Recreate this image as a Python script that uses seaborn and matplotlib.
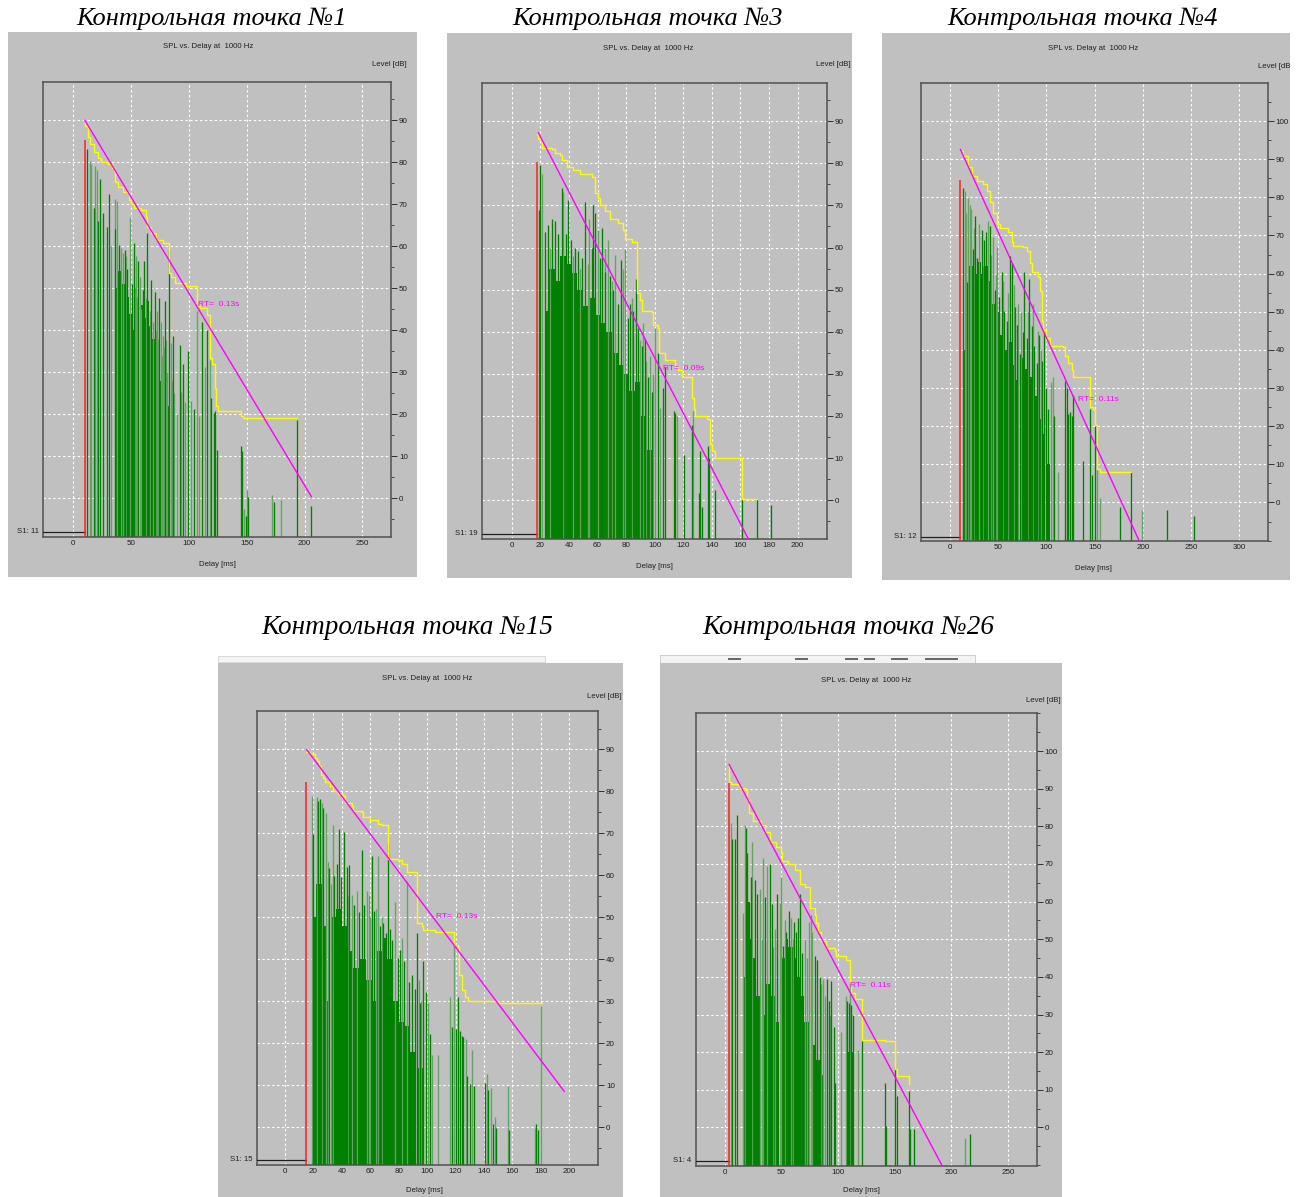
import numpy as np
import matplotlib
matplotlib.use("Agg")
import matplotlib.pyplot as plt
import matplotlib.transforms as mtransforms
from matplotlib.patches import Rectangle
from matplotlib.ticker import MultipleLocator
import seaborn as sns

sns.set_style("white")
plt.rcParams['font.family'] = ['Liberation Sans', 'DejaVu Sans']

# ---------------- data ----------------
titles = ["Контрольная точка №1", "Контрольная точка №3", "Контрольная точка №4",
          "Контрольная точка №15", "Контрольная точка №26"]
s1_labels = ["S1: 11", "S1: 19", "S1: 12", "S1: 15", "S1: 4"]
rt_texts = ["RT=  0.13s", "RT=  0.09s", "RT=  0.11s", "RT=  0.13s", "RT=  0.11s"]
chart_title = "SPL vs. Delay at  1000 Hz"

# panel 1
p1_dark_x = [12.4, 18.1, 21.6, 23.6, 26, 29.4, 30.8, 36, 39.5, 44.6, 47, 51, 52.7, 56, 60, 61.3, 64.2, 67.7, 70.6, 74,
             79.2, 82.7, 86.4, 92.2, 95, 99.4, 104.3, 111.5, 116, 119.5, 121.5, 123, 124.4, 145.5, 146.3, 149, 151.2,
             173.4, 193.5, 206]
p1_dark_h = [83.2, 69, 66, 76, 68, 64.5, 72.5, 64, 60.3, 59, 54.5, 51, 60.7, 56.6, 49.5, 56.6, 63.2, 52, 49, 47.8,
             47, 59, 38.7, 36.4, 32, 35, 21.2, 42, 40, 24, 20.4, 20.8, 11.6, 12.5, 11.2, -4.2, 0.4,
             -0.8, 18.7, -1.7]
p1_light_x = [15, 15.8, 19.3, 20.7, 33, 36.6, 38.3, 41, 43, 46, 49, 54.7, 57.6, 62.8, 66.2, 69, 72.6, 75.7, 77.8, 80.6,
              84.4, 93.6, 96.5, 101.7, 107, 108.6, 113.8, 118, 147.8, 150.3, 172.2, 179.4, 53.5, 55.5, 58.5, 71.5,
              73.5, 76.5, 78.5, 81.5, 85.5, 87.5, 89.5]
p1_light_h = [80.3, 79.5, 79, 78.2, 60, 71.3, 70.7, 59.5, 58.5, 57.8, 67, 57.8, 52.8, 47.8, 44.5, 42, 44.5, 42, 38.7, 37.8,
              37, 25.4, 22.9, 23.3, 44.5, 19.6, 31.2, 32.9, -2.5, 2.1, 0.8, -0.4, 50, 48, 45, 40,
              38, 34, 36, 30, 28, 25, 20]
p1_floor_x0 = [37, 39, 42, 45, 48, 50.5, 57.7, 60, 63, 66, 68.5, 73, 77, 81, 85]
p1_floor_x1 = [39, 42, 45, 48, 50.5, 52.5, 60, 63, 66, 68.5, 71.5, 76, 80, 84, 88]
p1_floor_h = [50, 54, 51, 48, 44, 40, 46, 43, 47, 41, 38, 28, 24, 22, 18]
p1_yel_x = [10.1, 10.6, 12.9, 15, 18.1, 21.6, 24.5, 30, 33.7, 35.4, 36.6, 39, 43, 48, 50.4, 53, 59, 63.4, 64.2, 67.7,
            72, 77.8, 82.7, 85, 88, 98, 107, 109.4, 115.8, 118, 120, 122.4, 123.8, 125.3, 145.5, 147, 193.5]
p1_yel_y = [90, 88.6, 86, 84.4, 82.4, 81, 80, 79.5, 78.6, 77.8, 75.3, 74, 72.8, 71, 70, 69, 68.6, 67, 64.5, 63.2,
            61.5, 60.7, 53.7, 52.8, 51.3, 50.5, 45.8, 45.3, 43.7, 33.3, 32, 26.2, 22, 20.8, 19.6, 19.1, 19.1]
p1_rt_x = [10.1, 206]
p1_rt_y = [90, 0.4]
p1_red_x, p1_red_top = 10.1, 85.3

# panel 2
p2_dark_x = [19.1, 19.8, 23.3, 25.6, 28, 30.3, 32.6, 35, 37.8, 39.6, 41.5, 44.3, 46.6, 49, 51.3, 56, 57, 58.3, 61.8,
             63.4, 65.3, 68.8, 70.6, 74.6, 76.2, 81.1, 82.8, 85.1, 86.7, 88.6, 90.9, 93.2, 95.1, 98.4, 102.6, 106,
             107.2, 113.3, 114.2, 120.7, 126.3, 131, 131.7, 132.9, 137.5, 138.2, 142.2, 160.8, 171.8, 181]
p2_dark_h = [69, 79.6, 63.7, 65.4, 66.7, 66.2, 63.3, 74.2, 63.3, 71.2, 61.7, 60, 59.2, 57.5, 70.8, 60, 70, 68.3, 57.5,
             64.6, 54.2, 53.3, 50, 46.7, 57, 43.3, 46.7, 45, 52.5, 40.8, 36.7, 38.3, 29.2, 25.8, 35, 26.7,
             31.7, 21.2, 20.8, 10.8, 17.9, 1.7, 11.7, -1.7, 12.9, 10, 2.5, 0.4, 0.4, -1.2]
p2_light_x = [21, 36.1, 54, 60.1, 67.1, 72.3, 78, 79.3, 96.7, 100.2, 115.4, 127, 27, 43, 48, 53, 65, 70, 84, 92,
              89.5, 94, 99, 104]
p2_light_h = [77.5, 73.3, 66.7, 64.2, 61.7, 58.3, 55, 59.6, 34.2, 40.8, 20, 21.2, 60, 58, 55, 56, 60, 52, 48, 42,
              38, 33, 30, 22]
p2_floor_x0 = [23, 26, 30, 34, 38, 42, 46, 50, 54, 58, 62, 66, 70, 74, 78, 82, 86, 90, 94]
p2_floor_x1 = [26, 30, 34, 38, 42, 46, 50, 54, 58, 62, 66, 70, 74, 78, 82, 86, 90, 94, 98]
p2_floor_h = [45, 55, 52, 58, 56, 54, 50, 46, 48, 44, 42, 40, 35, 32, 30, 26, 28, 20, 12]
p2_yel_x = [18, 18.6, 21, 28, 30.3, 33.8, 35.4, 38.5, 43, 47.8, 56, 58.3, 60.6, 61.8, 65.3, 68.8, 74.6, 78, 79.3,
            83.9, 87.4, 89.7, 90.9, 97.9, 99, 102.6, 103, 107.2, 114.2, 116.6, 118.9, 125.9, 127.5, 128.5, 136.4,
            138.7, 139.9, 142.2, 160.8, 171.8]
p2_yel_y = [87, 85.8, 83.7, 83.3, 82.5, 82, 80.8, 79.2, 78.3, 77.5, 76.7, 72.9, 71.7, 70, 68.7, 66.7, 65.8, 64.2, 62.1,
            61.2, 49.2, 47.5, 45, 44.6, 41.7, 40.8, 35, 33.3, 31.7, 30.8, 29.2, 24.2, 21.7, 20, 19.2,
            13.3, 11.7, 10, 0.4, 0.4]
p2_rt_x = [18.6, 165.5]
p2_rt_y = [87.3, -9.2]
p2_red_x, p2_red_top = 18, 80.2

# panel 3
p3_dark_x = [13.8, 18, 23.5, 26, 28.3, 32.8, 35.3, 37.3, 41.5, 46.7, 51.2, 53.6, 56, 58.8, 62.2, 64.6, 67, 69.8, 72.6,
             75.4, 77.1, 79.5, 82.3, 84.7, 87.1, 89.9, 92.6, 95, 97.5, 99.6, 102, 107.8, 119.3, 121, 122.7, 124.4,
             126.2, 127.9, 138.3, 145.2, 146.9, 150.4, 176.3, 187.3, 224.7, 253.4]
p3_dark_h = [82.5, 57.7, 66.4, 75.2, 64.1, 71.5, 68.7, 71, 72.4, 55.8, 54, 60.4, 50.3, 47.6, 64.6, 62.7, 51.2, 46.6, 38.8,
             44.8, 60.4, 43, 58.6, 46.2, 41.1, 36.5, 43.9, 37, 44.8, 30.1, 24.6, 22.7, 31.9, 30.1, 23.2, 23.6,
             22.7, 28.2, 10.8, 24.6, 7.1, 20, -1.2, 8, -2.1, -3.5]
p3_light_x = [15.6, 19, 20.7, 30.4, 39, 44.2, 49, 104.4, 106.5, 112.3, 152.1, 155.5, 199.4, 17, 22, 25, 34, 43, 48,
              55, 60, 66, 71, 74, 81, 86, 91, 94]
p3_light_h = [81.6, 79.8, 78, 72.9, 73.8, 69.6, 66.9, 31.5, 32.8, 8, 18.6, 1.1, -2.1, 76, 77, 72, 62, 65, 60,
              58, 55, 57, 52, 50, 50, 52, 45, 40]
p3_floor_x0 = [14, 17, 20, 24, 28, 32, 36, 40, 44, 48, 52, 56, 60, 64, 68, 74, 78, 82, 86, 90, 94, 100]
p3_floor_x1 = [17, 20, 24, 28, 32, 36, 40, 44, 48, 52, 56, 60, 64, 68, 72, 78, 82, 86, 90, 94, 98, 104]
p3_floor_h = [40, 55, 62, 60, 63, 60, 62, 58, 52, 50, 44, 40, 42, 36, 32, 38, 35, 33, 28, 22, 18, 10]
p3_yel_x = [10.7, 13.8, 19, 22.5, 27.7, 34.6, 38, 41.5, 45, 48.4, 51.8, 60.5, 64, 65.7, 76, 79.5, 83, 84.7, 91.6,
            93.3, 95, 96.8, 99.6, 103.7, 117.5, 119.3, 122.7, 126.2, 127.9, 145.2, 148, 150.4, 152.8, 155.5, 187.3]
p3_yel_y = [92.2, 90.8, 88, 85.7, 84.4, 83.4, 81.6, 78.8, 76, 72.9, 72, 71, 68.3, 67.3, 66.9, 66, 62.7, 60.4, 59,
            55.4, 47.6, 45.3, 43, 41.1, 40.7, 38.4, 36.5, 34.7, 32.8, 25, 24.6, 20.4, 8.9, 8, 8]
p3_rt_x = [10.7, 196.3]
p3_rt_y = [92.6, -10.1]
p3_red_x, p3_red_top = 10.7, 84.5

# panel 4
p4_dark_x = [19.5, 23, 24.6, 27, 31, 34.7, 36.3, 38, 39.4, 41.7, 43.4, 45, 48.8, 52, 53.9, 55.6, 61, 62.8, 66.8, 69.2,
             70.8, 72.2, 73.9, 75.5, 79.7, 80.9, 84, 87.2, 89.1, 91.4, 92.6, 95, 97.3, 98.9, 102, 117.7, 120, 121.9,
             123.1, 124.3, 125.4, 128.3, 130.1, 133.2, 140.7, 143, 146.5, 148.4, 157.6, 176.6, 177.7]
p4_dark_h = [69.8, 77.7, 78.1, 76, 61.8, 59.9, 62.8, 71.1, 59.5, 70.3, 62, 62.4, 52.9, 51.2, 66.1, 52.9, 64.5, 51.6, 47.9,
             48.7, 46.2, 67.8, 47.1, 44.6, 40.4, 42.1, 39.6, 34.6, 36.3, 33, 46.2, 29.7, 39.6, 32.1, 22.2, 23.9, 23.4,
             30.9, 23, 21.8, 21.4, 12.3, 10.2, 9.8, 10.6, 8.9, 0.7, -0.2, -0.6, 0.7, -0.6]
p4_light_x = [18.8, 22.3, 25.8, 28.6, 30.5, 34, 46.9, 50.4, 57.4, 59.1, 65.2, 77.4, 85.6, 100.8, 103.2, 107.4, 116,
              119.1, 127, 131.8, 141.9, 144.9, 147.7, 156.6, 175.8, 179.8, 32.5, 44, 60, 64, 68, 82.5, 94, 96]
p4_light_h = [79, 78.7, 77.3, 74.8, 63.2, 71.9, 55.3, 56.2, 56.2, 55.3, 64.5, 53.7, 58.7, 29.7, 17.2, 17.2, 30.9,
              43.3, 21, 18.5, 12.7, 9.4, 2.3, 9.8, -0.2, 28.8, 58, 55, 50, 52, 50, 45, 35, 30]
p4_floor_x0 = [19.5, 22, 26, 29, 33, 36, 40, 44, 48, 53, 57, 61, 64, 68, 72, 76, 80, 84, 88, 93]
p4_floor_x1 = [22, 26, 29, 31, 36, 40, 44, 48, 52, 57, 61, 64, 68, 72, 76, 80, 84, 88, 92, 97]
p4_floor_h = [50, 58, 48, 30, 50, 52, 48, 42, 38, 40, 35, 30, 42, 45, 40, 30, 25, 24, 18, 14]
p4_yel_x = [14.8, 17.6, 21.1, 22.3, 23.9, 25.3, 27, 28.1, 31.7, 34, 37.5, 41, 42.2, 46.9, 48, 53.9, 55.1, 59.8, 65.7,
            68, 72.5, 79.3, 82, 85.6, 92.6, 96.1, 97.3, 105.5, 119.1, 121.9, 122.4, 124.3, 126.6, 129, 150, 180.5]
p4_yel_y = [89.5, 88.9, 88, 87.2, 86, 83.9, 83.1, 82.3, 81.2, 80.2, 79.4, 79, 77.3, 76.5, 75.4, 75.2, 74, 73.2, 72.3,
            71.9, 64, 63.6, 62.8, 60.7, 48.7, 47.9, 46.9, 46.6, 43.3, 42.9, 36.3, 32.6, 30.9, 30.1, 29.7, 29.5]
p4_rt_x = [15.2, 196.5]
p4_rt_y = [90, 8.5]
p4_red_x, p4_red_top = 14.8, 82.3

# panel 5
p5_dark_x = [6.5, 8.8, 11.2, 19.1, 20, 21.2, 22.9, 26.5, 28.8, 35.3, 39.7, 41.8, 46.5, 51.5, 54.4, 56.5, 61.2, 63.2,
             64.7, 66.2, 68.2, 79.4, 81.8, 83.8, 90.6, 91.8, 94.1, 96.2, 97.6, 108.2, 109.4, 111.8, 113.2, 121.2,
             141.2, 142.4, 150, 152.4, 162.4, 163.2, 166.8, 216.2]
p5_dark_h = [76.7, 76.7, 83, 79.5, 73, 59.3, 66.6, 65.7, 62, 61.1, 69.9, 59.3, 62, 48.3, 51.9, 57.4, 54.7, 51.9,
             55.6, 62, 46.4, 45.5, 44.6, 40, 39.5, 33.5, 39, 26.7, 11.9, 33.5, 33.1, 32.6, 29.9, 23,
             11.9, 0.5, 16.1, 8.3, 9.7, -0.5, -0.5, -1.8]
p5_light_x = [5.3, 16.2, 17.6, 24.1, 30.9, 34.1, 37.6, 44.7, 48.5, 50, 58.8, 70.6, 74.1, 75.9, 77.1, 86.8, 102.4,
              107.4, 110.9, 117.6, 211.8, 32.5, 43, 53, 60, 72.5, 85, 88.5, 93]
p5_light_h = [80.9, 57, 80.4, 75.8, 63.4, 71.7, 69.4, 52.8, 59.7, 66.6, 55.6, 50.1, 54.7, 56.5, 51.9, 39.5, 25.3,
              34.9, 38.1, 20.7, -2.8, 50, 48, 55, 50, 45, 38, 35, 30]
p5_floor_x0 = [17, 19, 22, 25, 28, 33, 36, 40, 44, 50, 53, 56, 60, 64, 67, 70, 76, 80, 84, 107]
p5_floor_x1 = [19, 22, 25, 28, 31, 36, 40, 44, 48, 53, 56, 60, 64, 67, 70, 74, 80, 84, 88, 113]
p5_floor_h = [40, 60, 50, 45, 35, 30, 38, 35, 28, 45, 50, 48, 45, 40, 35, 28, 22, 18, 14, 20]
p5_yel_x = [3.8, 3.8, 5.9, 11.8, 13.2, 18.2, 20, 21.2, 25, 32.4, 35.9, 39.7, 45.6, 50, 50.6, 55.9, 61.8, 66.2, 70.6,
            75, 75.6, 79.4, 80.9, 82.4, 85.3, 89.7, 97, 98.5, 107.4, 110.3, 111.8, 114.7, 121.2, 141.2, 150, 152.4,
            162.4]
p5_yel_y = [96.2, 91.9, 91.3, 91, 90.1, 89.6, 86.9, 83.6, 81.3, 80.4, 78.6, 75.8, 74.4, 73.1, 70.8, 69.9, 68.5, 64.8,
            63.9, 63, 58.4, 56.5, 54.2, 51.9, 49.6, 47.8, 46.9, 45.5, 44.6, 38.6, 35.8, 34, 23.2, 23, 15.6, 13.8,
            11.5]
p5_rt_x = [3.8, 191.8]
p5_rt_y = [96.5, -10.1]
p5_red_x, p5_red_top = 3.8, 91.5

# ---------------- layout (pixels) ----------------
W, H = 1297, 1197
GREY = "#c0c0c0"
DARK = "#008000"
LIGHT = "#62a462"

panels = [
    dict(box=(43, 81.5, 391.3, 536.7), bg=(8, 32, 417, 577), xlim=(-26, 275), ylim=(-9.1, 99.2),
         xstep=50, xtop=250, ytop=90, title_xy=(212, 19), spl_xy=(208.5, 47), level_xy=(407, 64),
         delay_xy=(217, 565), rt_pos=(108, 46.2), tsize=19,
         dark=(p1_dark_x, p1_dark_h), light=(p1_light_x, p1_light_h), floor=(p1_floor_x0, p1_floor_x1, p1_floor_h),
         yel=(p1_yel_x, p1_yel_y), rt=(p1_rt_x, p1_rt_y), red=(p1_red_x, p1_red_top), level="Level [dB]"),
    dict(box=(481.7, 83.3, 826.7, 538.8), bg=(447, 33, 852, 578), xlim=(-21, 220.3), ylim=(-9.17, 99),
         xstep=20, xtop=200, ytop=90, title_xy=(648, 19), spl_xy=(648, 48), level_xy=(851, 64),
         delay_xy=(654, 566), rt_pos=(106, 31.3), tsize=19,
         dark=(p2_dark_x, p2_dark_h), light=(p2_light_x, p2_light_h), floor=(p2_floor_x0, p2_floor_x1, p2_floor_h),
         yel=(p2_yel_x, p2_yel_y), rt=(p2_rt_x, p2_rt_y), red=(p2_red_x, p2_red_top), level="Level [dB]"),
    dict(box=(920.7, 83.3, 1267.7, 541), bg=(882, 33, 1290, 580), xlim=(-30.4, 329.5), ylim=(-10.1, 109.9),
         xstep=50, xtop=300, ytop=100, title_xy=(1083, 19), spl_xy=(1093, 49), level_xy=(1290, 66),
         delay_xy=(1093, 568), rt_pos=(133, 26.9), tsize=19,
         dark=(p3_dark_x, p3_dark_h), light=(p3_light_x, p3_light_h), floor=(p3_floor_x0, p3_floor_x1, p3_floor_h),
         yel=(p3_yel_x, p3_yel_y), rt=(p3_rt_x, p3_rt_y), red=(p3_red_x, p3_red_top), level="Level [dB"),
    dict(box=(256.7, 711.3, 598.3, 1164.9), bg=(218, 663, 623, 1197), xlim=(-19.9, 220.4), ylim=(-9.0, 99.1),
         xstep=20, xtop=200, ytop=90, title_xy=(407, 628), spl_xy=(427, 679), level_xy=(622, 697),
         delay_xy=(424, 1190), rt_pos=(106, 50.2), tsize=19.5,
         dark=(p4_dark_x, p4_dark_h), light=(p4_light_x, p4_light_h), floor=(p4_floor_x0, p4_floor_x1, p4_floor_h),
         yel=(p4_yel_x, p4_yel_y), rt=(p4_rt_x, p4_rt_y), red=(p4_red_x, p4_red_top), level="Level [dB]"),
    dict(box=(695.7, 713.4, 1037, 1165.5), bg=(660, 663, 1062, 1197), xlim=(-25.6, 275.6), ylim=(-10.1, 110),
         xstep=50, xtop=250, ytop=100, title_xy=(848, 628), spl_xy=(866, 680), level_xy=(1061, 700),
         delay_xy=(861, 1191), rt_pos=(110.3, 37.7), tsize=19.5,
         dark=(p5_dark_x, p5_dark_h), light=(p5_light_x, p5_light_h), floor=(p5_floor_x0, p5_floor_x1, p5_floor_h),
         yel=(p5_yel_x, p5_yel_y), rt=(p5_rt_x, p5_rt_y), red=(p5_red_x, p5_red_top), level="Level [dB]"),
]

fig = plt.figure(figsize=(W / 100, H / 100), dpi=100)
fig.patch.set_facecolor("white")


def ftxt(x, y, s, **kw):
    fig.text(x / W, 1 - y / H, s, **kw)


def frect(x0, y0, x1, y1, **kw):
    fig.add_artist(Rectangle((x0 / W, 1 - y1 / H), (x1 - x0) / W, (y1 - y0) / H,
                             transform=fig.transFigure, **kw))


# toolbar remnants above bottom panels
frect(218, 656, 545, 662, facecolor="#f4f4f4", edgecolor="#d4d4d4", lw=0.6, zorder=0)
frect(660, 655, 975, 663, facecolor="#f2f2f2", edgecolor="#c8c8c8", lw=0.6, zorder=0)
for a, b in [(728, 741), (795, 808), (845, 858), (864, 875), (891, 908), (925, 958)]:
    frect(a, 657.5, b, 660, facecolor="#6a6a6a", edgecolor="none", zorder=1)

for i, p in enumerate(panels):
    bx0, by0, bx1, by1 = p["bg"]
    frect(bx0, by0, bx1, by1, facecolor=GREY, edgecolor="none", zorder=0)

    x0, y0, x1, y1 = p["box"]
    bw, bh = x1 - x0, y1 - y0
    ax = fig.add_axes([x0 / W, 1 - y1 / H, bw / W, bh / H])
    ax.set_facecolor(GREY)
    ylo = p["ylim"][0]

    # grid
    ax.set_axisbelow(True)
    ax.grid(True, which="major", color="white", linestyle=(0, (2.2, 2.2)), linewidth=0.8)

    # solid dense part of the reflectogram
    fx0, fx1, fh = p["floor"]
    ax.bar(fx0, np.array(fh) - ylo, width=np.array(fx1) - np.array(fx0), bottom=ylo,
           align="edge", color=DARK, linewidth=0, zorder=2)
    # individual reflections
    lx, lh = p["light"]
    ax.vlines(lx, ylo, lh, colors=LIGHT, linewidth=0.95, zorder=2.2)
    dx, dh = p["dark"]
    ax.vlines(dx, ylo, dh, colors=DARK, linewidth=0.95, zorder=2.4)

    # Schroeder integral (yellow) and regression line (magenta)
    yx, yy = p["yel"]
    sns.lineplot(x=yx, y=yy, ax=ax, color="#ffff00", linewidth=1.0, drawstyle="steps-post",
                 estimator=None, sort=False, zorder=3)
    rx, ry = p["rt"]
    sns.lineplot(x=rx, y=ry, ax=ax, color="#ff00ff", linewidth=1.0, estimator=None, sort=False, zorder=4)

    # direct sound (red)
    redx, redtop = p["red"]
    ax.vlines([redx], ylo, redtop, colors="#ff2020", linewidth=1.1, zorder=3.5)

    # S1 marker line and label
    trans = mtransforms.blended_transform_factory(ax.transData, ax.transAxes)
    yax = 4.5 / bh
    ax.plot([p["xlim"][0], redx], [yax, yax], transform=trans, color="#202020", lw=0.9, zorder=3)
    ax.text(-4 / bw, yax + 0.5 / bh, s1_labels[i], transform=ax.transAxes, ha="right", va="center",
            fontsize=5.6, color="#202020")

    ax.text(p["rt_pos"][0], p["rt_pos"][1], rt_texts[i], color="#ff00ff", fontsize=6.0,
            ha="left", va="center", zorder=5)

    # axes formatting
    ax.set_xlim(*p["xlim"])
    ax.set_ylim(*p["ylim"])
    ax.set_xticks(np.arange(0, p["xtop"] + 1, p["xstep"]))
    ax.xaxis.set_minor_locator(MultipleLocator(10))
    ax.set_yticks(np.arange(0, p["ytop"] + 1, 10))
    ax.yaxis.set_minor_locator(MultipleLocator(5))
    ax.yaxis.tick_right()
    ax.tick_params(axis="x", which="major", direction="in", length=3, width=0.7, pad=2.5,
                   labelsize=5.8, colors="#303030", labelcolor="#202020")
    ax.tick_params(axis="x", which="minor", direction="in", length=2, width=0.6, colors="#303030")
    ax.tick_params(axis="y", which="major", direction="out", length=4, width=0.7, pad=1.5,
                   labelsize=5.8, colors="#303030", labelcolor="#202020")
    ax.tick_params(axis="y", which="minor", direction="out", length=2.2, width=0.6, colors="#303030")
    for s in ax.spines.values():
        s.set_visible(True)
        s.set_color("#505050")
        s.set_linewidth(1.1)
    ax.set_xlabel("")
    ax.set_ylabel("")
    leg = ax.get_legend()
    if leg is not None:
        leg.remove()

    # surrounding texts
    ftxt(*p["title_xy"], titles[i], family=["Liberation Serif", "DejaVu Serif"], style="italic",
         fontsize=p["tsize"], ha="center", va="center", color="black")
    ftxt(*p["spl_xy"], chart_title, fontsize=5.6, ha="center", va="center", color="#202020")
    ftxt(*p["level_xy"], p["level"], fontsize=5.6, ha="right", va="center", color="#202020")
    ftxt(*p["delay_xy"], "Delay [ms]", fontsize=5.6, ha="center", va="center", color="#202020")

fig.savefig("out.png", dpi=100, facecolor="white")
